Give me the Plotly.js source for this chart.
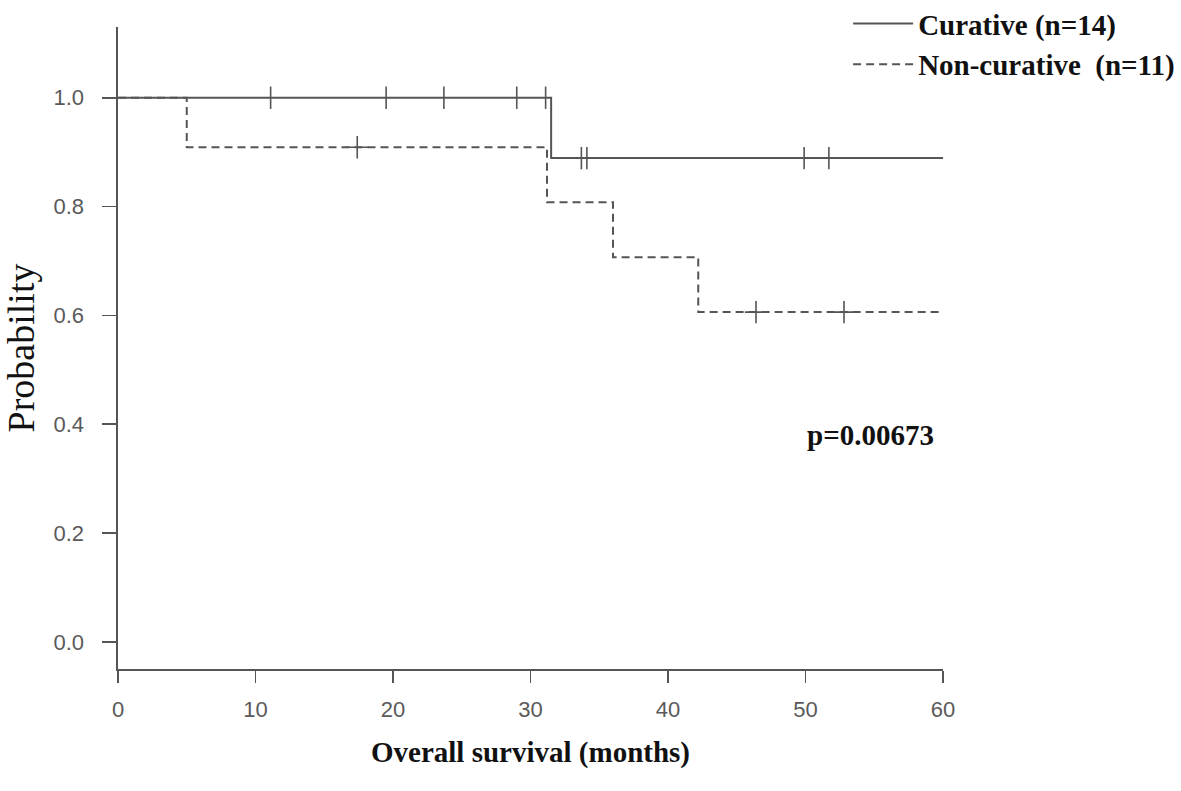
<!DOCTYPE html>
<html>
<head>
<meta charset="utf-8">
<script src="https://cdn.plot.ly/plotly-3.0.1.min.js"></script>
<style>html,body{margin:0;padding:0;background:#fff;}#chart{width:1181px;height:791px;}</style>
</head>
<body>
<div id="chart"></div>
<script>
// Kaplan-Meier step data (months, probability)
const curativeTime = [0, 31.5, 60];
const curativeSurv = [1.0, 0.889, 0.889];
const nonCurativeTime = [0, 5.0, 31.2, 36.0, 42.2, 60];
const nonCurativeSurv = [1.0, 0.909, 0.808, 0.707, 0.606, 0.606];

// Censored observations
const curativeCensorTime = [11.1, 19.5, 23.7, 29.0, 31.1, 33.7, 34.1, 49.9, 51.7];
const curativeCensorSurv = [1.0, 1.0, 1.0, 1.0, 1.0, 0.889, 0.889, 0.889, 0.889];
const nonCurativeCensorTime = [17.4, 46.4, 52.8];
const nonCurativeCensorSurv = [0.909, 0.606, 0.606];

const seriesNames = ['Curative (n=14)', 'Non-curative  (n=11)'];
const xTicks = [0, 10, 20, 30, 40, 50, 60];
const yTicks = [0.0, 0.2, 0.4, 0.6, 0.8, 1.0];
const pValueText = 'p=0.00673';

const col = '#555555';
const serif = '"Liberation Serif", "Times New Roman", serif';
const sans = '"Liberation Sans", Arial, sans-serif';

const traces = [
  {x: curativeTime, y: curativeSurv, mode: 'lines', line: {shape: 'hv', color: col, width: 2}, name: seriesNames[0]},
  {x: nonCurativeTime, y: nonCurativeSurv, mode: 'lines', line: {shape: 'hv', color: col, width: 2, dash: '8px,5px'}, name: seriesNames[1]},
  {x: curativeCensorTime, y: curativeCensorSurv, mode: 'markers', showlegend: false,
   marker: {symbol: 'line-ns', size: 16, line: {color: col, width: 1.6}}},
  {x: nonCurativeCensorTime, y: nonCurativeCensorSurv, mode: 'markers', showlegend: false,
   marker: {symbol: 'cross-thin', size: 16, line: {color: col, width: 1.6}}}
];

const layout = {
  width: 1181, height: 791,
  margin: {l: 118, r: 238, t: 27, b: 122, autoexpand: false},
  paper_bgcolor: '#fff', plot_bgcolor: '#fff',
  showlegend: true,
  legend: {x: 0.885, y: 1.045, xanchor: 'left', yanchor: 'top',
           font: {family: serif, size: 29, color: '#111', weight: 'bold'},
           bgcolor: 'rgba(0,0,0,0)', tracegroupgap: 0, itemwidth: 60},
  xaxis: {
    range: [0, 60], tickvals: xTicks, ticktext: xTicks.map(String),
    showgrid: false, zeroline: false, showline: true, linecolor: col, linewidth: 1.6,
    ticks: 'outside', ticklen: 12, tickcolor: col, tickwidth: 1.6,
    tickfont: {family: sans, size: 22, color: '#5a5a5a'}, ticklabelstandoff: 8,
    title: {text: 'Overall survival (months)', standoff: 20,
            font: {family: serif, size: 29, color: '#111', weight: 'bold'}},
    automargin: false
  },
  yaxis: {
    range: [-0.05, 1.13], tickvals: yTicks, ticktext: yTicks.map(v => v.toFixed(1)),
    showgrid: false, zeroline: false, showline: true, linecolor: col, linewidth: 1.6,
    ticks: 'outside', ticklen: 14, tickcolor: col, tickwidth: 1.6,
    tickfont: {family: sans, size: 22, color: '#5a5a5a'}, ticklabelstandoff: 14,
    title: {text: 'Probability', standoff: 20,
            font: {family: serif, size: 38, color: '#111'}},
    automargin: false
  },
  annotations: [{
    x: 54.76, y: 0.38, xref: 'x', yref: 'y', text: '<b>' + pValueText + '</b>',
    showarrow: false, xanchor: 'center', yanchor: 'middle',
    font: {family: serif, size: 29, color: '#111'}
  }]
};

Plotly.newPlot('chart', traces, layout, {displayModeBar: false, staticPlot: true});
</script>
</body>
</html>
